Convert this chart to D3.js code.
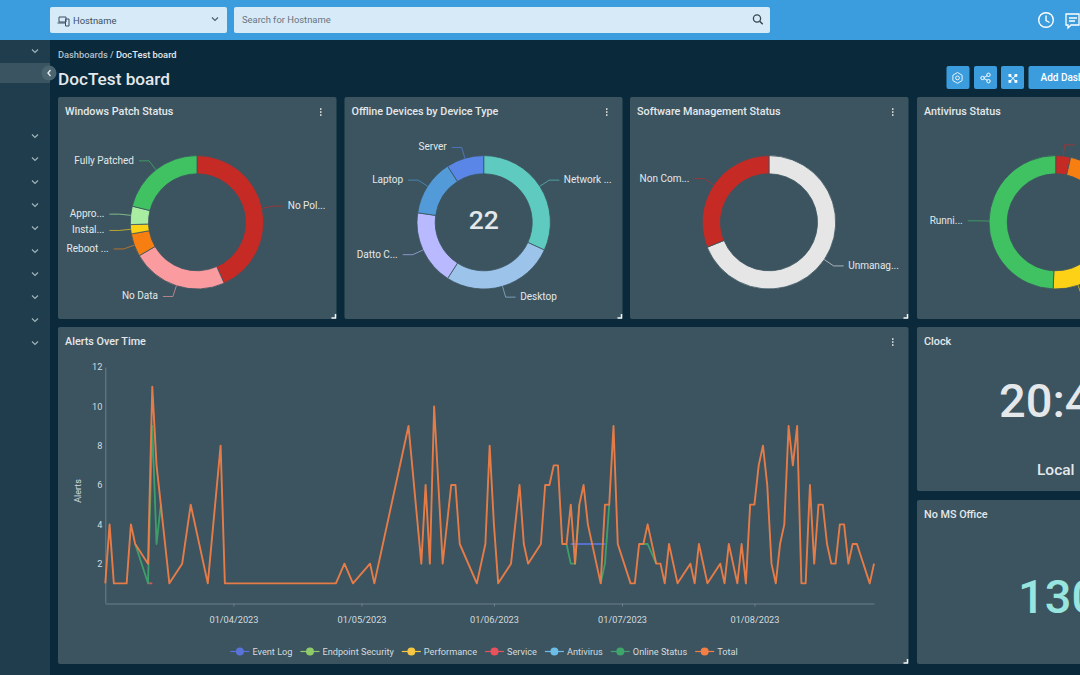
<!DOCTYPE html>
<html>
<head>
<meta charset="utf-8">
<script src="https://cdn.jsdelivr.net/npm/d3@7"></script>
<style>
html, body { margin: 0; padding: 0; background: #0a2a3c; overflow: hidden; }
svg { display: block; font-family: Roboto, sans-serif; }
</style>
</head>
<body>
<svg id="page" width="1080" height="675"></svg>
<script>
'use strict';

// donut values
var patchLabels = ['No Pol...', 'No Data', 'Reboot ...', 'Instal...', 'Appro...', 'Fully Patched'];
var patchValues = [39, 21, 5, 2, 4, 19];
var patchColors = ['#c62a25', '#f99b9f', '#f77f11', '#fcd116', '#a9eda2', '#40c162'];

var offlineLabels = ['Network ...', 'Desktop', 'Datto C...', 'Laptop', 'Server'];
var offlineValues = [7, 6, 4, 3, 2];
var offlineColors = ['#5fcbc0', '#9cc3e9', '#b9b9ff', '#529bd8', '#5a86e8'];

var softwareLabels = ['Unmanag...', 'Non Com...'];
var softwareValues = [31, 14];
var softwareColors = ['#e6e6e6', '#c62a25'];

var antivirusLabels = ['', '', '', 'Runni...'];
var antivirusValues = [3, 29, 10, 41];
var antivirusColors = ['#c62a25', '#f77f11', '#fcd116', '#40c162'];

// alerts over time, x is days since 2 Mar 2023
var totalDays = [0, 1, 2, 5, 6, 7, 10, 11, 12, 13, 15, 18, 20, 24, 27, 28, 54, 56, 58, 62, 63, 71,
    74, 75, 76, 77, 79, 81, 82, 83, 87, 89, 90, 91, 92, 95, 97, 98, 99, 102, 103, 104, 105, 106,
    107, 108, 109, 110, 111, 112, 113, 116, 117, 118, 119, 120, 123, 124, 125, 126, 127, 129, 130,
    131, 132, 134, 137, 138, 139, 141, 144, 145, 146, 148, 149, 150, 151, 152, 153, 154, 155, 156,
    157, 158, 159, 160, 161, 162, 163, 164, 165, 166, 167, 168, 169, 170, 171, 172, 173, 174, 175,
    176, 179, 180];
var totalValues = [1, 4, 1, 1, 4, 3, 2, 11, 7, 5, 1, 2, 5, 1, 8, 1, 1, 2, 1, 2, 1, 9,
    2, 6, 2, 10, 2, 6, 6, 3, 1, 3, 8, 4, 1, 2, 6, 3, 2, 3, 6, 6, 7, 7,
    3, 3, 5, 2, 5, 6, 4, 1, 5, 5, 9, 3, 1, 1, 3, 3, 4, 2, 2,
    1, 3, 1, 2, 1, 3, 1, 2, 1, 3, 1, 3, 1, 5, 5, 7, 8, 6, 2,
    1, 3, 4, 9, 7, 9, 1, 1, 6, 2, 5, 5, 3, 2, 2, 4, 4, 2, 3,
    3, 1, 2];

// only the stretches where the series leave the Total line are kept, null breaks the line
var onlineDays = [7, 10, 11, 12, 13, null, 108, 109, 110, 111, null, 116, 117, 118, null, 126, 127, 129];
var onlineValues = [3, 1, 9, 3, 5, null, 3, 2, 2, 5, null, 1, 2, 5, null, 3, 3, 2];
var serviceDays = [10, 11];
var serviceValues = [1, 1];
var eventLogDays = [109, 117];
var eventLogValues = [3, 3];

var legendNames = ['Event Log', 'Endpoint Security', 'Performance', 'Service', 'Antivirus', 'Online Status', 'Total'];
var legendColors = ['#5a73d8', '#8fcb68', '#f7c744', '#e9525d', '#6dbde9', '#3fa56a', '#f47f45'];

var sideArrows = [51, 136, 159, 182, 205, 228, 251, 274, 297, 320, 343];

var panelColor = '#3b5460',
    textColor = '#e4e8ea',
    blue = '#3b9ddd';

var svg = d3.select('#page');

function rect(x, y, w, h, fill, r) {
    return svg.append('rect')
        .attr('x', x).attr('y', y)
        .attr('width', w).attr('height', h)
        .attr('rx', r || 0)
        .attr('fill', fill);
}

function label(x, y, str, size, color, weight, anchor) {
    return svg.append('text')
        .attr('x', x).attr('y', y)
        .attr('font-size', size)
        .attr('font-weight', weight || 400)
        .attr('text-anchor', anchor || 'start')
        .attr('fill', color)
        .text(str);
}

function icon(d, color, width) {
    return svg.append('path')
        .attr('d', d)
        .attr('fill', 'none')
        .attr('stroke', color)
        .attr('stroke-width', width || 1.2);
}

function ring(x, y, r, color, width) {
    return svg.append('circle')
        .attr('cx', x).attr('cy', y).attr('r', r)
        .attr('fill', 'none')
        .attr('stroke', color)
        .attr('stroke-width', width);
}

// chrome around the dashboard
rect(0, 40, 50, 635, '#1f3d4c');
rect(0, 63, 50, 20, '#3a5561');
rect(0, 0, 1080, 40, blue);
rect(50, 7, 177, 26, '#d7eaf8', 2);
rect(234, 7, 536, 26, '#d7eaf8', 2);
label(73, 23.5, 'Hostname', 9.4, '#3c4f60');
label(242, 23, 'Search for Hostname', 9.4, '#66757f');
icon('M59 17h7v5h-7zM57.5 23h8M65.5 19h3.5v7h-3.5z', '#3c4f60', 1);
icon('M212 17.5l3 3l3 -3', '#4c5f6c');
ring(757, 18.5, 3.6, '#37474f', 1.3);
icon('M759.7 21.2l3 3', '#37474f', 1.5);
ring(1046, 20, 7.3, '#fff', 1.4);
icon('M1046 15.5v5l3.5 2', '#fff', 1.4);
icon('M1066 14h13v11h-8l-3 3v-3h-2zM1069 18h8M1069 21h6', '#fff', 1.3);

sideArrows.forEach(function(y) {
    icon('M32 ' + (y - 1.5) + 'l3 3l3 -3', '#9fb3bd');
});
svg.append('circle').attr('cx', 49).attr('cy', 73).attr('r', 7.5).attr('fill', '#4b6570');
icon('M50.5 70l-2.5 3l2.5 3', '#e4e8ea', 1.4);

var crumb = label(58, 58, 'Dashboards / ', 9.3, '#b4c0c6', 500);
crumb.append('tspan').attr('fill', textColor).text('DocTest board');
label(58, 85, 'DocTest board', 17.2, textColor, 500);

// toolbar buttons
[946.5, 974, 1001].forEach(function(x) {
    rect(x, 66, 23, 23, blue, 2);
});
rect(1028.5, 66, 80, 23, blue, 2);
label(1040.5, 81, 'Add Dash', 10, '#fff', 500);
icon('M957.5 72.5l4.6 2.7v5.4l-4.6 2.7l-4.6 -2.7v-5.4z', '#e8f4fc', 1);
ring(957.5, 77.9, 1.9, '#e8f4fc', 1);
icon('M983 78l5 -2.7M983 78l5 2.7', '#fff', 1);
[[982.5, 78], [988.5, 74.8], [988.5, 81.2]].forEach(function(p) {
    svg.append('circle').attr('cx', p[0]).attr('cy', p[1]).attr('r', 1.7)
        .attr('fill', blue).attr('stroke', '#fff');
});
[[1008.5, 74], [1014.5, 74], [1008.5, 80], [1014.5, 80]].forEach(function(p) {
    rect(p[0], p[1], 2.8, 2.8, '#fff');
});
icon('M1010 75.5l5.8 5.8M1015.8 75.5l-5.8 5.8', '#fff', 1);

function panel(x, y, w, h, title, hasMenu, hasHandle) {
    rect(x, y, w, h, panelColor, 2);
    label(x + 7, y + 18, title, 10.8, textColor, 500);
    if(hasMenu) {
        [-3, 0, 3].forEach(function(dy) {
            rect(x + w - 16.5, y + 15 + dy - 0.7, 1.5, 1.5, '#f0f0f0');
        });
    }
    if(hasHandle) {
        icon('M' + (x + w - 1) + ' ' + (y + h - 5) + 'v4h-4', '#f4f4f4', 1.5);
    }
}

panel(58, 97, 278.5, 222, 'Windows Patch Status', true, true);
panel(344.5, 97, 278, 222, 'Offline Devices by Device Type', true, true);
panel(630, 97, 278.5, 222, 'Software Management Status', true, true);
panel(917, 97, 200, 222, 'Antivirus Status', false, false);
panel(58, 327, 850.5, 337, 'Alerts Over Time', true, true);
panel(917, 327, 200, 164, 'Clock', false, false);
panel(917, 500, 200, 164, 'No MS Office', false, false);

// donuts
var outerR = 66.7,
    innerR = 48.5,
    elbowR = 78;

function drawDonut(cx, cy, labels, values, colors) {
    var g = svg.append('g').attr('transform', 'translate(' + cx + ',' + cy + ')');
    var arcs = d3.pie().sort(null)(values);
    var arc = d3.arc().innerRadius(innerR).outerRadius(outerR);

    g.selectAll('path.slice')
        .data(arcs)
        .enter().append('path')
            .attr('class', 'slice')
            .attr('d', arc)
            .attr('fill', function(d, i) { return colors[i]; })
            .attr('stroke', panelColor)
            .attr('stroke-width', 0.8);

    arcs.forEach(function(d, i) {
        var mid = (d.startAngle + d.endAngle) / 2,
            sin = Math.sin(mid),
            cos = Math.cos(mid),
            side = sin >= 0 ? 1 : -1,
            ex = sin * elbowR,
            ey = -cos * elbowR;

        g.append('path')
            .attr('d', d3.line()([[sin * outerR, -cos * outerR], [ex, ey], [ex + side * 10, ey]]))
            .attr('fill', 'none')
            .attr('stroke', colors[i])
            .attr('stroke-opacity', 0.65)
            .attr('stroke-width', 1);

        g.append('text')
            .attr('x', ex + side * (side > 0 ? 14.5 : 15))
            .attr('y', ey + 3)
            .attr('font-size', 10)
            .attr('text-anchor', side > 0 ? 'start' : 'end')
            .attr('fill', textColor)
            .text(labels[i]);
    });
}

drawDonut(197, 222.3, patchLabels, patchValues, patchColors);
drawDonut(483.7, 222.3, offlineLabels, offlineValues, offlineColors);
drawDonut(769, 222.3, softwareLabels, softwareValues, softwareColors);
drawDonut(1055.7, 222.3, antivirusLabels, antivirusValues, antivirusColors);

label(483.7, 229, '22', 26.5, textColor, 500, 'middle');

// alerts line chart
var startDay = new Date(2023, 2, 2);

function dayToDate(n) {
    return d3.timeDay.offset(startDay, n);
}

var xScale = d3.scaleTime()
    .domain([dayToDate(0), dayToDate(180)])
    .range([105.3, 874]);
var yScale = d3.scaleLinear()
    .domain([0, 12])
    .range([603, 367]);

var xAxis = d3.axisBottom(xScale)
    .tickValues([new Date(2023, 3, 1), new Date(2023, 4, 1), new Date(2023, 5, 1), new Date(2023, 6, 1), new Date(2023, 7, 1)])
    .tickFormat(d3.timeFormat('%d/%m/%Y'))
    .tickSize(3)
    .tickSizeOuter(0);
var yAxis = d3.axisLeft(yScale)
    .tickValues([2, 4, 6, 8, 10, 12])
    .tickSize(0)
    .tickPadding(3);

var gx = svg.append('g').attr('transform', 'translate(0,603.5)').call(xAxis);
var gy = svg.append('g').attr('transform', 'translate(105.3,0)').call(yAxis);

[gx, gy].forEach(function(g) {
    g.attr('font-family', null).attr('font-size', null);
    g.selectAll('.domain, line').attr('stroke', '#6d7f8a');
    g.selectAll('text').attr('fill', '#d5dbde').attr('font-size', 9.2);
});
gx.selectAll('text').attr('y', 12.5);

svg.append('text')
    .attr('transform', 'translate(81,491) rotate(-90)')
    .attr('text-anchor', 'middle')
    .attr('font-size', 9)
    .attr('fill', '#d5dbde')
    .text('Alerts');

function drawSeries(days, values, color, width) {
    var line = d3.line()
        .defined(function(d) { return d !== null; })
        .x(function(d) { return xScale(dayToDate(d)); })
        .y(function(d, i) { return yScale(values[i]); });

    svg.append('path')
        .attr('d', line(days))
        .attr('fill', 'none')
        .attr('stroke', color)
        .attr('stroke-width', width)
        .attr('stroke-opacity', 0.92)
        .attr('stroke-linejoin', 'round');
}

drawSeries(eventLogDays, eventLogValues, legendColors[0], 1.8);
drawSeries(serviceDays, serviceValues, legendColors[3], 1.8);
drawSeries(onlineDays, onlineValues, legendColors[5], 1.8);
drawSeries(totalDays, totalValues, legendColors[6], 1.9);

// legend, each item is placed after the width of the one before it
var legendX = 230.4;
legendNames.forEach(function(name, i) {
    var g = svg.append('g').attr('transform', 'translate(' + legendX + ',651.5)');
    g.append('line').attr('x1', 0).attr('x2', 19)
        .attr('stroke', legendColors[i]).attr('stroke-width', 1.2);
    g.append('circle').attr('cx', 9.5).attr('r', 4).attr('fill', legendColors[i]);
    var t = g.append('text').attr('x', 22).attr('y', 3.2)
        .attr('font-size', 9.2).attr('fill', '#d5dbde').text(name);
    legendX += 22 + t.node().getComputedTextLength() + 8;
});

// stat tiles
label(999, 416.5, '20:4', 47, textColor, 500);
label(1037, 475, 'Local', 15.5, textColor, 500);
label(1018, 613, '130', 47, '#98e4de', 500);
</script>
</body>
</html>
